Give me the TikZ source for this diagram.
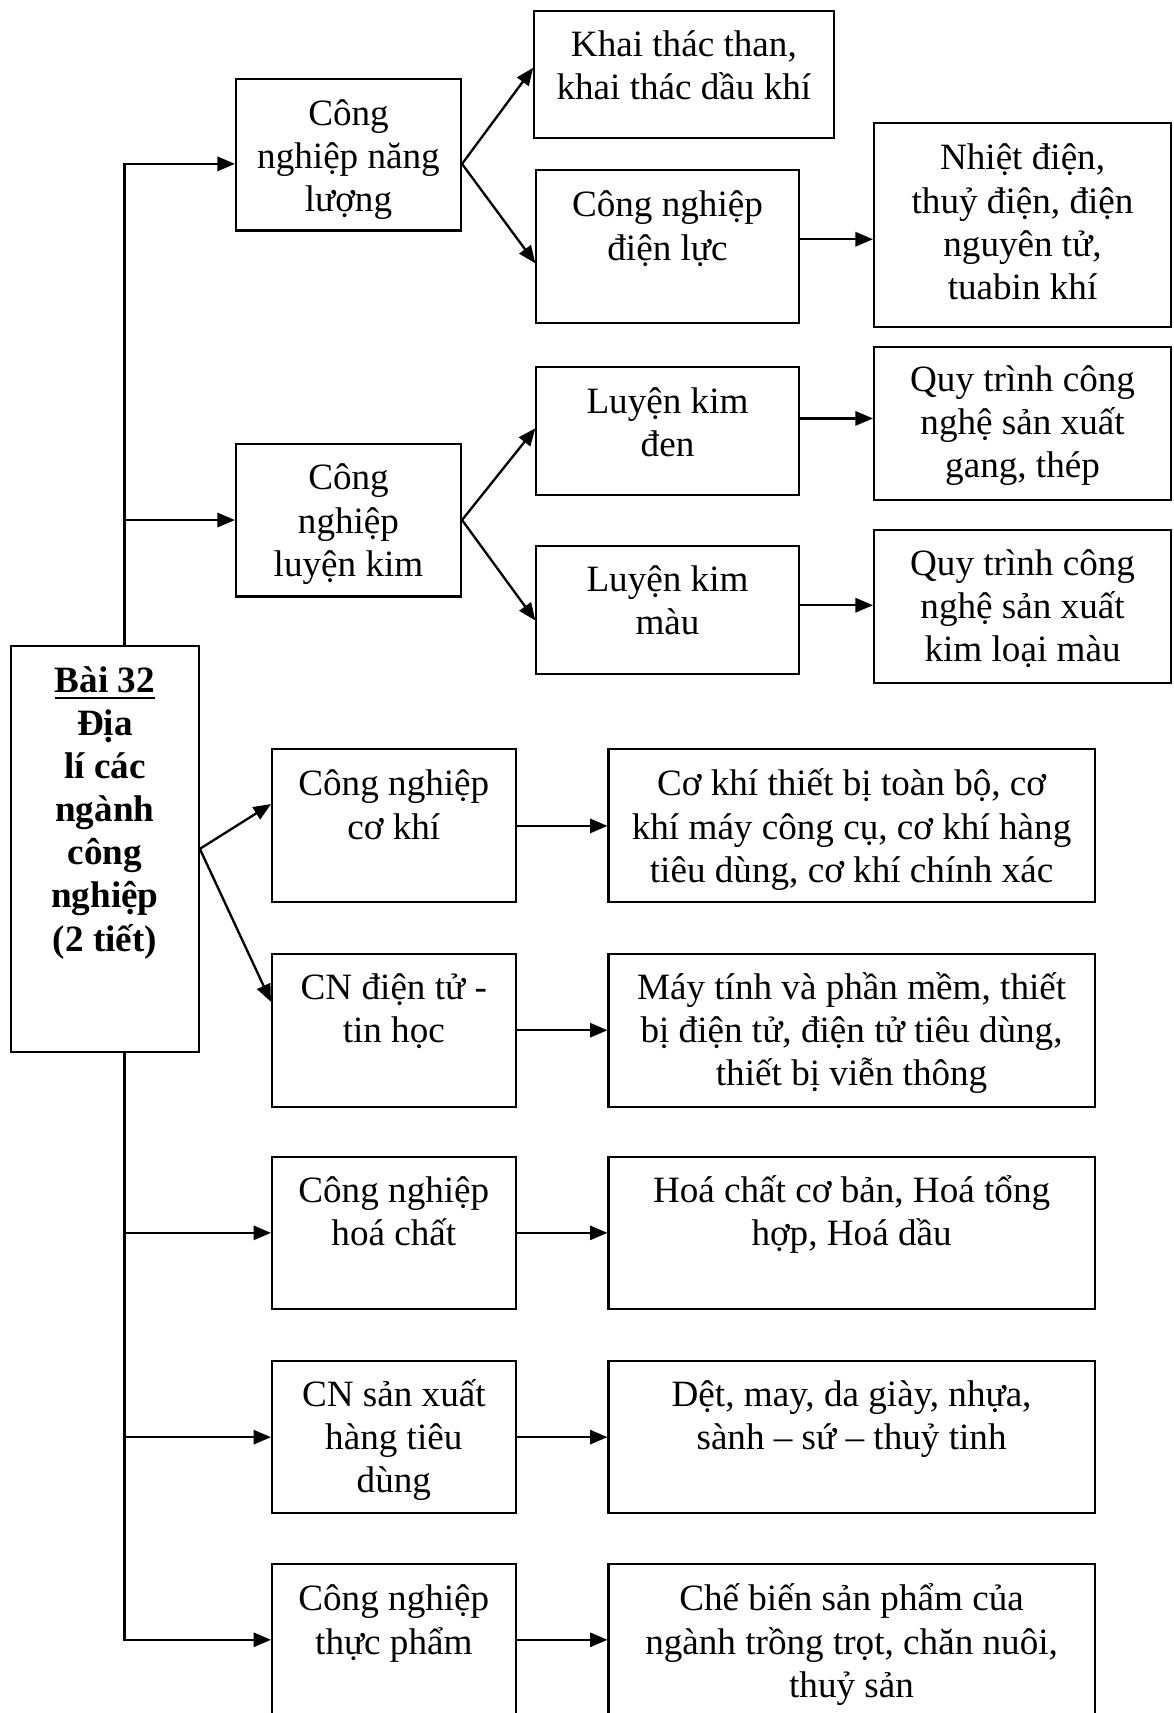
\documentclass[tikz,border=0pt]{standalone}
\usepackage{fontspec}
\setmainfont{Liberation Serif}
\usetikzlibrary{arrows.meta,fit}
% centred lines, baseline of the first line is the box baseline, fixed line pitch
\newcommand\ml[1]{\vtop{\lineskiplimit=-100pt\baselineskip=15.8pt\halign{\hfil##\hfil\cr#1\crcr}}}
% heavier underline for the heading
\newcommand\ulbar[1]{\setbox0=\hbox{#1}\rlap{\rule[-2.6pt]{\wd0}{0.9pt}}\box0}
\begin{document}
\begin{tikzpicture}[x=0.4pt,y=-0.4pt,
  box/.style={draw, line width=0.75pt, inner sep=0pt},
  txt/.style={anchor=base, inner sep=0pt, yshift=-1pt, font=\fontsize{13.6}{15.8}\selectfont},
  arr/.style={line width=0.85pt, line join=miter, -{Triangle[length=6.4pt,width=5.2pt]}}]
\useasboundingbox (0,0) rectangle (1074,1568);
\fill[white] (0,0) rectangle (1074,1568);
\clip (0,0) rectangle (1074,1568);

% ---- boxes ----
\node[box, fit={(10,591) (182,963)}] (m) {};
\node[box, fit={(216,72) (422,211)}] (nl) {};
\node[box, fit={(489,10) (763,126)}] (kt) {};
\node[box, fit={(491,156) (731,296)}] (dl) {};
\node[box, fit={(800,113) (1072,299)}] (nd) {};
\node[box, fit={(216,406) (422,546)}] (lk) {};
\node[box, fit={(491,336) (731,453)}] (lkd) {};
\node[box, fit={(491,500) (731,617)}] (lkm) {};
\node[box, fit={(800,318) (1072,458)}] (qt1) {};
\node[box, fit={(800,485) (1072,625)}] (qt2) {};
\node[box, fit={(249,686) (472,826)}] (ck) {};
\node[box, fit={(557,686) (1002,826)}] (ckd) {};
\node[box, fit={(249,873) (472,1013)}] (dt) {};
\node[box, fit={(557,873) (1002,1013)}] (dtd) {};
\node[box, fit={(249,1059) (472,1198)}] (hc) {};
\node[box, fit={(557,1059) (1002,1198)}] (hcd) {};
\node[box, fit={(249,1246) (472,1385)}] (sx) {};
\node[box, fit={(557,1246) (1002,1385)}] (sxd) {};
\node[box, fit={(249,1432) (472,1570)}] (tp) {};
\node[box, fit={(557,1432) (1002,1570)}] (tpd) {};

% ---- texts ----
\node[txt, font=\fontsize{13.6}{15.8}\selectfont\bfseries] (m-t) at (96,631)
  {\ml{\ulbar{Bài 32}\cr Địa\cr lí các\cr ngành\cr công\cr nghiệp\cr (2 tiết)}};
\node[txt] (nl-t) at (319,112) {\ml{Công\cr nghiệp năng\cr lượng}};
\node[txt] (kt-t) at (626,49) {\ml{Khai thác than,\cr khai thác dầu khí}};
\node[txt] (dl-t) at (611,196) {\ml{Công nghiệp\cr điện lực}};
\node[txt] (nd-t) at (936,153) {\ml{Nhiệt điện,\cr thuỷ điện, điện\cr nguyên tử,\cr tuabin khí}};
\node[txt] (lk-t) at (319,446) {\ml{Công\cr nghiệp\cr luyện kim}};
\node[txt] (lkd-t) at (611,376) {\ml{Luyện kim\cr đen}};
\node[txt] (lkm-t) at (611,539) {\ml{Luyện kim\cr màu}};
\node[txt] (qt1-t) at (936,356) {\ml{Quy trình công\cr nghệ sản xuất\cr gang, thép}};
\node[txt] (qt2-t) at (936,524) {\ml{Quy trình công\cr nghệ sản xuất\cr kim loại màu}};
\node[txt] (ck-t) at (360.5,726) {\ml{Công nghiệp\cr cơ khí}};
\node[txt] (ckd-t) at (779.5,726) {\ml{Cơ khí thiết bị toàn bộ, cơ\cr khí máy công cụ, cơ khí hàng\cr tiêu dùng, cơ khí chính xác}};
\node[txt] (dt-t) at (360.5,912) {\ml{CN điện tử -\cr tin học}};
\node[txt] (dtd-t) at (779.5,912) {\ml{Máy tính và phần mềm, thiết\cr bị điện tử, điện tử tiêu dùng,\cr thiết bị viễn thông}};
\node[txt] (hc-t) at (360.5,1098) {\ml{Công nghiệp\cr hoá chất}};
\node[txt] (hcd-t) at (779.5,1098) {\ml{Hoá chất cơ bản, Hoá tổng\cr hợp, Hoá dầu}};
\node[txt] (sx-t) at (360.5,1285) {\ml{CN sản xuất\cr hàng tiêu\cr dùng}};
\node[txt] (sxd-t) at (779.5,1285) {\ml{Dệt, may, da giày, nhựa,\cr sành – sứ – thuỷ tinh}};
\node[txt] (tp-t) at (360.5,1472) {\ml{Công nghiệp\cr thực phẩm}};
\node[txt] (tpd-t) at (779.5,1472) {\ml{Chế biến sản phẩm của\cr ngành trồng trọt, chăn nuôi,\cr thuỷ sản}};

% ---- connectors ----
\coordinate (tx) at (114,0);
\coordinate (nlw) at ([yshift=-3.4pt]nl.west);
\coordinate (nle) at ([yshift=-3.4pt]nl.east);
\coordinate (dle) at ([yshift=2.8pt]dl.east);
\coordinate (lkde) at ([yshift=4.6pt]lkd.east);
\coordinate (lkme) at ([yshift=1.8pt]lkm.east);

% trunk with its branches
\draw[arr] (m.north -| tx) |- (nlw);
\draw[arr] (lk.west -| tx) -- (lk.west);
\draw[arr] (m.south -| tx) |- (tp.west);
\draw[arr] (hc.west -| tx) -- (hc.west);
\draw[arr] (sx.west -| tx) -- (sx.west);

% fans
\draw[arr] (nle) -- ([yshift=2.4pt]kt.west);
\draw[arr] (nle) -- ([yshift=-6pt]dl.west);
\draw[arr] (lk.east) -- ([yshift=1pt]lkd.west);
\draw[arr] (lk.east) -- ([yshift=-3.8pt]lkm.west);
\draw[arr] (m.east) -- ([yshift=8pt]ck.west);
\draw[arr] (m.east) -- ([yshift=10.4pt]dt.west);

% detail arrows
\draw[arr] (dle) -- (dle -| nd.west);
\draw[arr] (lkde) -- (lkde -| qt1.west);
\draw[arr] (lkme) -- (lkme -| qt2.west);
\draw[arr] (ck.east) -- (ckd.west);
\draw[arr] (dt.east) -- (dtd.west);
\draw[arr] (hc.east) -- (hcd.west);
\draw[arr] (sx.east) -- (sxd.west);
\draw[arr] (tp.east) -- (tp.east -| tpd.west);
\end{tikzpicture}
\end{document}
